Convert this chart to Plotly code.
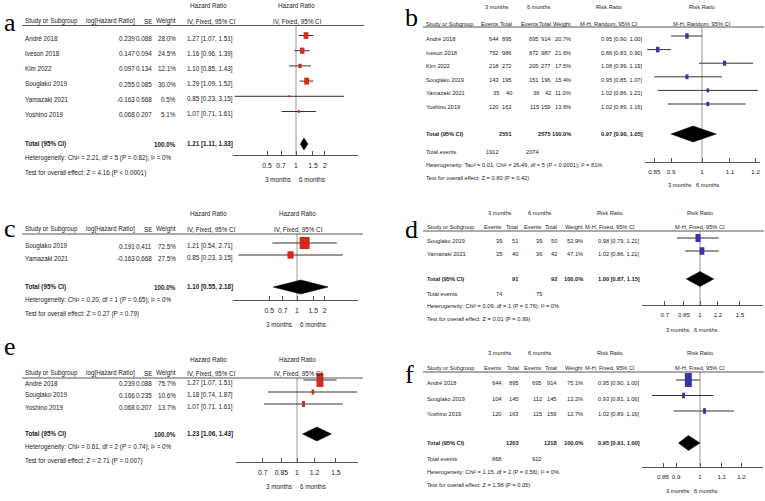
import math
import plotly.graph_objects as go

W, H = 765, 501
FONT = "Liberation Sans, Arial, sans-serif"
SERIF = "Liberation Serif, Times New Roman, serif"

# ---------------- data ----------------
# a: HR, IV fixed
a_study = ["André 2018", "Iveson 2018", "Kim 2022", "Souglako 2019", "Yamazaki 2021", "Yoshino 2019"]
a_loghr = [0.239, 0.147, 0.097, 0.255, -0.163, 0.068]
a_se = [0.088, 0.094, 0.134, 0.085, 0.668, 0.207]
a_weight = [28.0, 24.5, 12.1, 30.0, 0.5, 5.1]
a_est = [1.27, 1.16, 1.10, 1.29, 0.85, 1.07]
a_lo = [1.07, 0.96, 0.85, 1.09, 0.23, 0.71]
a_hi = [1.51, 1.39, 1.43, 1.52, 3.15, 1.61]
a_total = [1.21, 1.11, 1.33]
a_total_weight = 100.0
a_het = "Heterogeneity: Chi² = 2.21, df = 5 (P = 0.82); I² = 0%"
a_test = "Test for overall effect: Z = 4.16 (P < 0.0001)"
a_ticks = [0.5, 0.7, 1, 1.5, 2]

# b: RR, M-H random
b_study = ["André 2018", "Iveson 2018", "Kim 2022", "Souglako 2019", "Yamazaki 2021", "Yoshino 2019"]
b_ev3 = [644, 752, 218, 143, 35, 120]
b_tot3 = [895, 986, 272, 195, 40, 163]
b_ev6 = [695, 872, 205, 151, 36, 115]
b_tot6 = [914, 987, 277, 196, 42, 159]
b_weight = [20.7, 21.6, 17.5, 15.4, 11.0, 13.8]
b_est = [0.95, 0.86, 1.08, 0.95, 1.02, 1.02]
b_lo = [0.90, 0.83, 0.99, 0.85, 0.86, 0.89]
b_hi = [1.00, 0.90, 1.19, 1.07, 1.21, 1.16]
b_total = [0.97, 0.90, 1.05]
b_total_weight = 100.0
b_sum = [2551, 2575, 1912, 2074]
b_het = "Heterogeneity: Tau² = 0.01; Chi² = 26.49, df = 5 (P < 0.0001); I² = 81%"
b_test = "Test for overall effect: Z = 0.80 (P = 0.42)"
b_ticks = [0.85, 0.9, 1, 1.1, 1.2]

# c: HR, IV fixed
c_study = ["Souglako 2019", "Yamazaki 2021"]
c_loghr = [0.191, -0.163]
c_se = [0.411, 0.668]
c_weight = [72.5, 27.5]
c_est = [1.21, 0.85]
c_lo = [0.54, 0.23]
c_hi = [2.71, 3.15]
c_total = [1.10, 0.55, 2.18]
c_total_weight = 100.0
c_het = "Heterogeneity: Chi² = 0.20, df = 1 (P = 0.65); I² = 0%"
c_test = "Test for overall effect: Z = 0.27 (P = 0.79)"
c_ticks = [0.5, 0.7, 1, 1.5, 2]

# d: RR, M-H fixed
d_study = ["Souglako 2019", "Yamazaki 2021"]
d_ev3 = [39, 35]
d_tot3 = [51, 40]
d_ev6 = [39, 36]
d_tot6 = [50, 42]
d_weight = [52.9, 47.1]
d_est = [0.98, 1.02]
d_lo = [0.79, 0.86]
d_hi = [1.21, 1.21]
d_total = [1.00, 0.87, 1.15]
d_total_weight = 100.0
d_sum = [91, 92, 74, 75]
d_het = "Heterogeneity: Chi² = 0.09, df = 1 (P = 0.76); I² = 0%"
d_test = "Test for overall effect: Z = 0.01 (P = 0.99)"
d_ticks = [0.7, 0.85, 1, 1.2, 1.5]

# e: HR, IV fixed
e_study = ["André 2018", "Souglako 2019", "Yoshino 2019"]
e_loghr = [0.239, 0.166, 0.068]
e_se = [0.088, 0.235, 0.207]
e_weight = [75.7, 10.6, 13.7]
e_est = [1.27, 1.18, 1.07]
e_lo = [1.07, 0.74, 0.71]
e_hi = [1.51, 1.87, 1.61]
e_total = [1.23, 1.06, 1.43]
e_total_weight = 100.0
e_het = "Heterogeneity: Chi² = 0.61, df = 2 (P = 0.74); I² = 0%"
e_test = "Test for overall effect: Z = 2.71 (P = 0.007)"
e_ticks = [0.7, 0.85, 1, 1.2, 1.5]

# f: RR, M-H fixed
f_study = ["André 2018", "Souglako 2019", "Yoshino 2019"]
f_ev3 = [644, 104, 120]
f_tot3 = [895, 145, 163]
f_ev6 = [695, 112, 115]
f_tot6 = [914, 145, 159]
f_weight = [75.1, 12.2, 12.7]
f_est = [0.95, 0.93, 1.02]
f_lo = [0.90, 0.81, 0.89]
f_hi = [1.00, 1.06, 1.16]
f_total = [0.95, 0.91, 1.00]
f_total_weight = 100.0
f_sum = [1203, 1218, 868, 922]
f_het = "Heterogeneity: Chi² = 1.15, df = 2 (P = 0.56); I² = 0%"
f_test = "Test for overall effect: Z = 1.98 (P = 0.05)"
f_ticks = [0.85, 0.9, 1, 1.1, 1.2]

# ---------------- layout (pixels) ----------------
HR_LAY = {
    "a": dict(k=1, label=(3, 23), h1=6, h2=21, line=25.5, lx=(22, 364), row0=38.5, dy=15.2, total=144,
              het=158, test=173, axis=155, apx=(233, 358), c=296, ppd=96.3, months=180,
              kw=0.9, kh=1.25, dh=12, fs=6.3),
    "c": dict(k=3, label=(3, 228), h1=213, h2=229, line=234, lx=(22, 363), row0=246, dy=12, total=287,
              het=300, test=314, axis=300, apx=(233, 358), c=297, ppd=92, months=324,
              kw=1.18, kh=1.41, dh=14, fs=6.3),
    "e": dict(k=5, label=(3, 346), h1=359, h2=373, line=378, lx=(22, 363), row0=383, dy=12, total=434,
              het=447, test=461, axis=462, apx=(236, 358), c=297, ppd=221, months=486,
              kw=0.8, kh=1.6, dh=14, fs=6.3),
}
RR_LAY = {
    "b": dict(k=2, label=(404, 17), h1=7, h2=24, line=27, lx=(423, 764), row0=39, dy=13.6, total=134,
              tev=152, het=165, test=178, axis=162, apx=(645, 760), c=702, ppd=676, months=185,
              cols=(425, 500, 513, 540, 552, 572, 600), m3=497, m6=539, rr=609,
              sub="M-H, Random, 95% CI", kw=0.77, kh=1.2, dh=16, fs=5.7),
    "d": dict(k=4, label=(404, 230), h1=213, h2=227, line=231, lx=(423, 764), row0=241, dy=13, total=279,
              tev=294, het=306, test=319, axis=305, apx=(642, 763), c=700, ppd=227, months=330,
              cols=(426, 503, 519, 543, 558, 584, 597), m3=500, m6=540, rr=610,
              sub="M-H, Fixed, 95% CI", kw=0.69, kh=1.1, dh=15, fs=5.7),
    "f": dict(k=6, label=(404, 374), h1=353, h2=368, line=372, lx=(423, 764), row0=383, dy=15.5, total=443,
              tev=459, het=472, test=485, axis=467, apx=(642, 763), c=700, ppd=524, months=491,
              cols=(426, 503, 520, 543, 558, 584, 597), m3=500, m6=540, rr=610,
              sub="M-H, Fixed, 95% CI", kw=0.8, kh=1.6, dh=15, fs=5.7),
}

RED = "#d42a1e"
BLUE = "#3535a8"
INK = "#222222"
GRID = "#555555"

fig = go.Figure()
annotations = []
shapes = []
layout_axes = {}


def X(px):
    return px / W


def Y(py):
    return 1 - py / H


def txt(x, y, s, align="left", bold=False, size=6.3, family=FONT, color=INK):
    annotations.append(dict(
        x=X(x), y=Y(y), xref="paper", yref="paper",
        text=f"<b>{s}</b>" if bold else s, showarrow=False,
        xanchor=align, yanchor="middle", borderpad=0,
        font=dict(family=family, size=size, color=color)))


def hline(x0, x1, y, color=GRID, width=1):
    shapes.append(dict(type="line", xref="paper", yref="paper",
                       x0=X(x0), x1=X(x1), y0=Y(y), y1=Y(y),
                       line=dict(color=color, width=width)))


def fmt2(v):
    return f"{v:.2f}"


def ci_text(e, lo, hi):
    return f"{fmt2(e)} [{fmt2(lo)}, {fmt2(hi)}]"


def make_axis(L, ticks):
    k = L["k"]
    name = "xaxis" if k == 1 else f"xaxis{k}"
    ref = "x" if k == 1 else f"x{k}"
    x0, x1 = L["apx"]
    layout_axes[name] = dict(
        type="log",
        range=[(x0 - L["c"]) / L["ppd"], (x1 - L["c"]) / L["ppd"]],
        domain=[X(x0), X(x1)],
        anchor="free", position=Y(L["axis"]),
        showline=True, linecolor=GRID, linewidth=1,
        ticks="inside", ticklen=4, tickcolor=GRID, tickangle=0,
        ticklabelstandoff=4,
        tickvals=ticks, ticktext=[f"{t:g}" for t in ticks],
        tickfont=dict(family=FONT, size=L["fs"] + 0.5, color=INK),
        showgrid=False, zeroline=False, fixedrange=True)
    return ref


def forest(L, ref, est, lo, hi, weight, total, color):
    rows = [L["row0"] + i * L["dy"] for i in range(len(est))]
    fig.add_trace(go.Scatter(x=[1, 1], y=[L["line"], L["axis"]], mode="lines",
                             line=dict(color="#9a9a9a", width=1), xaxis=ref, yaxis="y",
                             hoverinfo="skip", showlegend=False))
    xs, ys = [], []
    for r, a, b in zip(rows, lo, hi):
        xs += [a, b, None]
        ys += [r - 3, r - 3, None]
    fig.add_trace(go.Scatter(x=xs, y=ys, mode="lines", line=dict(color="#333333", width=1),
                             xaxis=ref, yaxis="y", hoverinfo="skip", showlegend=False))
    for r, e, w in zip(rows, est, weight):
        sw = max(1.5, L["kw"] * math.sqrt(w))
        sh = max(2.0, L["kh"] * math.sqrt(w))
        fig.add_trace(go.Scatter(x=[e, e], y=[r - 3 - sh / 2, r - 3 + sh / 2], mode="lines",
                                 line=dict(color=color, width=sw), xaxis=ref, yaxis="y",
                                 hoverinfo="skip", showlegend=False))
    te, tl, th = total
    yc, hh = L["total"], L["dh"] / 2
    fig.add_trace(go.Scatter(x=[tl, te, th, te, tl], y=[yc, yc - hh, yc, yc + hh, yc],
                             mode="lines", fill="toself", fillcolor="black",
                             line=dict(color="black", width=0.5), xaxis=ref, yaxis="y",
                             hoverinfo="skip", showlegend=False))
    return rows


def hr_panel(key, study, loghr, se, weight, est, lo, hi, total, total_w, het, test, ticks):
    L = HR_LAY[key]
    fs = L["fs"]
    ref = make_axis(L, ticks)
    rows = forest(L, ref, est, lo, hi, weight, total, RED)
    txt(L["label"][0], L["label"][1], key, "left", size=26, family=SERIF, color="black")
    txt(209, L["h1"], "Hazard Ratio", "center", size=fs)
    txt(L["c"], L["h1"], "Hazard Ratio", "center", size=fs)
    txt(24, L["h2"], "Study or Subgroup", "left", size=fs)
    txt(136, L["h2"], "log[Hazard Ratio]", "right", size=fs)
    txt(153, L["h2"], "SE", "right", size=fs)
    txt(177, L["h2"], "Weight", "right", size=fs)
    txt(186, L["h2"], "IV, Fixed, 95% CI", "left", size=fs)
    txt(L["c"] + 1, L["h2"], "IV, Fixed, 95% CI", "center", size=fs)
    hline(L["lx"][0], L["lx"][1], L["line"])
    for r, s, lg, sv, w, e, a, b in zip(rows, study, loghr, se, weight, est, lo, hi):
        txt(24, r, s, "left", size=fs)
        txt(136, r, f"{lg:.3f}", "right", size=fs)
        txt(153, r, f"{sv:.3f}", "right", size=fs)
        txt(177, r, f"{w:.1f}%", "right", size=fs)
        txt(186, r, ci_text(e, a, b), "left", size=fs)
    txt(24, L["total"], "Total (95% CI)", "left", bold=True, size=fs)
    txt(177, L["total"], f"{total_w:.1f}%", "right", bold=True, size=fs)
    txt(186, L["total"], ci_text(*total), "left", bold=True, size=fs)
    txt(24, L["het"], het, "left", size=fs)
    txt(24, L["test"], test, "left", size=fs)
    txt(L["c"] - 4, L["months"], "3 months", "right", size=fs)
    txt(L["c"] + 2, L["months"], "6 months", "left", size=fs)


def rr_panel(key, study, ev3, tot3, ev6, tot6, weight, est, lo, hi, total, total_w, sums, het, test, ticks):
    L = RR_LAY[key]
    fs = L["fs"]
    cs, ce3, ct3, ce6, ct6, cw, cci = L["cols"]
    ref = make_axis(L, ticks)
    rows = forest(L, ref, est, lo, hi, weight, total, BLUE)
    txt(L["label"][0], L["label"][1], key, "left", size=26, family=SERIF, color="black")
    txt(L["m3"], L["h1"], "3 months", "center", size=fs)
    txt(L["m6"], L["h1"], "6 months", "center", size=fs)
    txt(L["rr"], L["h1"], "Risk Ratio", "center", size=fs)
    txt(L["c"], L["h1"], "Risk Ratio", "center", size=fs)
    txt(cs, L["h2"], "Study or Subgroup", "left", size=fs)
    txt(ce3, L["h2"], "Events", "right", size=fs)
    txt(ct3, L["h2"], "Total", "right", size=fs)
    txt(ce6, L["h2"], "Events", "right", size=fs)
    txt(ct6, L["h2"], "Total", "right", size=fs)
    txt(cw, L["h2"], "Weight", "right", size=fs)
    txt(L["rr"], L["h2"], L["sub"], "center", size=fs)
    txt(L["c"], L["h2"], L["sub"], "center", size=fs)
    hline(L["lx"][0], L["lx"][1], L["line"])
    for r, s, a3, t3, a6, t6, w, e, a, b in zip(rows, study, ev3, tot3, ev6, tot6, weight, est, lo, hi):
        txt(cs, r, s, "left", size=fs)
        txt(ce3, r, str(a3), "right", size=fs)
        txt(ct3, r, str(t3), "right", size=fs)
        txt(ce6, r, str(a6), "right", size=fs)
        txt(ct6, r, str(t6), "right", size=fs)
        txt(cw, r, f"{w:.1f}%", "right", size=fs)
        txt(cci, r, ci_text(e, a, b), "left", size=fs)
    txt(cs, L["total"], "Total (95% CI)", "left", bold=True, size=fs)
    txt(ct3, L["total"], str(sums[0]), "right", bold=True, size=fs)
    txt(ct6, L["total"], str(sums[1]), "right", bold=True, size=fs)
    txt(cw, L["total"], f"{total_w:.1f}%", "right", bold=True, size=fs)
    txt(cci, L["total"], ci_text(*total), "left", bold=True, size=fs)
    txt(cs, L["tev"], "Total events", "left", size=fs)
    txt(ce3, L["tev"], str(sums[2]), "right", size=fs)
    txt(ce6, L["tev"], str(sums[3]), "right", size=fs)
    txt(cs, L["het"], het, "left", size=fs)
    txt(cs, L["test"], test, "left", size=fs)
    txt(L["c"] - 9, L["months"], "3 months", "right", size=fs)
    txt(L["c"] - 7, L["months"], "6 months", "left", size=fs)


hr_panel("a", a_study, a_loghr, a_se, a_weight, a_est, a_lo, a_hi, a_total, a_total_weight,
         a_het, a_test, a_ticks)
rr_panel("b", b_study, b_ev3, b_tot3, b_ev6, b_tot6, b_weight, b_est, b_lo, b_hi, b_total,
         b_total_weight, b_sum, b_het, b_test, b_ticks)
hr_panel("c", c_study, c_loghr, c_se, c_weight, c_est, c_lo, c_hi, c_total, c_total_weight,
         c_het, c_test, c_ticks)
rr_panel("d", d_study, d_ev3, d_tot3, d_ev6, d_tot6, d_weight, d_est, d_lo, d_hi, d_total,
         d_total_weight, d_sum, d_het, d_test, d_ticks)
hr_panel("e", e_study, e_loghr, e_se, e_weight, e_est, e_lo, e_hi, e_total, e_total_weight,
         e_het, e_test, e_ticks)
rr_panel("f", f_study, f_ev3, f_tot3, f_ev6, f_tot6, f_weight, f_est, f_lo, f_hi, f_total,
         f_total_weight, f_sum, f_het, f_test, f_ticks)

fig.update_layout(
    width=W, height=H, margin=dict(l=0, r=0, t=0, b=0),
    template="none", paper_bgcolor="white", plot_bgcolor="rgba(0,0,0,0)",
    showlegend=False, annotations=annotations, shapes=shapes,
    yaxis=dict(domain=[0, 1], range=[H, 0], visible=False, fixedrange=True),
    **layout_axes,
)
fig.write_html("out.html")
